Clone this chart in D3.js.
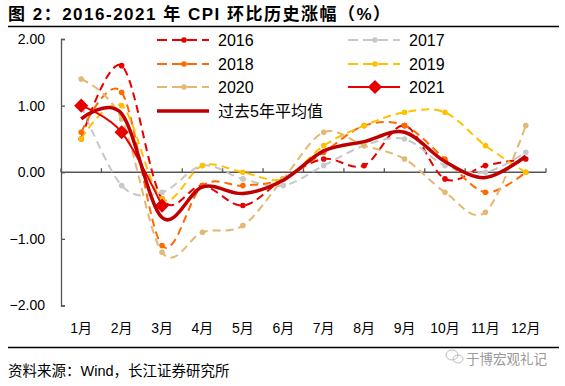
<!DOCTYPE html>
<html>
<head>
<meta charset="UTF-8">
<title>CPI 环比</title>
<script src="https://cdn.jsdelivr.net/npm/d3@7"></script>
<style>
  body { margin: 0; background: #fff; }
  text { font-family: "Liberation Sans", "Noto Sans CJK SC", sans-serif; }
</style>
</head>
<body>
<script>
// data
var months = ["1月", "2月", "3月", "4月", "5月", "6月", "7月", "8月", "9月", "10月", "11月", "12月"];
var yTicks = [2, 1, 0, -1, -2];
var v2016 = [0.5, 1.6, -0.4, -0.2, -0.5, -0.1, 0.2, 0.1, 0.7, -0.1, 0.1, 0.2];
var v2017 = [1.0, -0.2, -0.3, 0.1, -0.1, -0.2, 0.1, 0.4, 0.5, 0.1, 0.0, 0.3];
var v2018 = [0.6, 1.2, -1.1, -0.2, -0.2, -0.1, 0.3, 0.7, 0.7, 0.2, -0.3, 0.0];
var v2019 = [0.5, 1.0, -0.4, 0.1, 0.0, -0.1, 0.4, 0.7, 0.9, 0.9, 0.4, 0.0];
var v2020 = [1.4, 0.8, -1.2, -0.9, -0.8, -0.1, 0.6, 0.4, 0.2, -0.3, -0.6, 0.7];
var v2021 = [1.0, 0.6, -0.5];
var vAvg = [0.8, 0.88, -0.68, -0.22, -0.32, -0.12, 0.32, 0.46, 0.6, 0.16, -0.08, 0.24];

var series = [
  {name: "2016", values: v2016, color: "#e60000", dash: "8,5", marker: "dot", width: 2},
  {name: "2017", values: v2017, color: "#c8c8c8", dash: "8,5", marker: "dot", width: 2},
  {name: "2018", values: v2018, color: "#ff6a00", dash: "8,5", marker: "dot", width: 2},
  {name: "2019", values: v2019, color: "#ffc000", dash: "8,5", marker: "dot", width: 2},
  {name: "2020", values: v2020, color: "#e2b874", dash: "8,5", marker: "dot", width: 2},
  {name: "2021", values: v2021, color: "#e60000", dash: null, marker: "diamond", width: 2},
  {name: "过去5年平均值", values: vAvg, color: "#c00000", dash: null, marker: null, width: 3.5}
];

var W = 565, H = 386;
var svg = d3.select("body").append("svg").attr("width", W).attr("height", H);

// title + rules
svg.append("text").attr("x", 8).attr("y", 20)
  .attr("font-size", 17).attr("font-weight", "bold").attr("fill", "#000")
  .attr("textLength", 382).attr("lengthAdjust", "spacing")
  .text("图 2：2016-2021 年 CPI 环比历史涨幅（%）");
svg.append("line").attr("x1", 8).attr("x2", 559).attr("y1", 26.5).attr("y2", 26.5)
  .attr("stroke", "#000").attr("stroke-width", 1.3);
svg.append("line").attr("x1", 8).attr("x2", 559).attr("y1", 347.5).attr("y2", 347.5)
  .attr("stroke", "#000").attr("stroke-width", 1.3);

var x = d3.scaleBand().domain(months).range([61, 546]);
var y = d3.scaleLinear().domain([-2, 2]).range([305.5, 39]);

// y axis, ticks pointing inside
var yAxis = svg.append("g").attr("transform", "translate(61,0)")
  .call(d3.axisLeft(y).tickValues(yTicks).tickSize(-4).tickPadding(16).tickFormat(d3.format(".2f")));
yAxis.select(".domain").attr("stroke", "#555").attr("stroke-width", 1.3);
yAxis.selectAll(".tick line").attr("stroke", "#555").attr("stroke-width", 1.3);
yAxis.selectAll(".tick text").attr("font-size", 14).attr("fill", "#000")
  .attr("font-family", "\"Liberation Sans\", sans-serif");

// x axis at zero, ticks on the band edges pointing up
var xg = svg.append("g").attr("transform", "translate(0," + y(0) + ")");
xg.append("line").attr("x1", 61).attr("x2", 546).attr("stroke", "#555").attr("stroke-width", 1.3);
xg.selectAll("line.tk").data(months.concat(["end"])).enter().append("line")
  .attr("class", "tk")
  .attr("x1", function(d, i) { return 61 + i * x.bandwidth(); })
  .attr("x2", function(d, i) { return 61 + i * x.bandwidth(); })
  .attr("y1", 0).attr("y2", -4)
  .attr("stroke", "#555").attr("stroke-width", 1.3);

svg.append("g").selectAll("text").data(months).enter().append("text")
  .attr("x", function(d) { return x(d) + x.bandwidth() / 2; })
  .attr("y", 333)
  .attr("text-anchor", "middle").attr("font-size", 14).attr("fill", "#000")
  .text(function(d) { return d; });

// lines
var line = d3.line()
  .x(function(d, i) { return x(months[i]) + x.bandwidth() / 2; })
  .y(function(d) { return y(d); })
  .curve(d3.curveCatmullRom.alpha(0));

// square turned 45 degrees, like the Excel diamond
var diamond = d3.symbol().type(d3.symbolSquare).size(100);

series.forEach(function(s) {
  var g = svg.append("g");
  g.append("path").datum(s.values)
    .attr("d", line)
    .attr("fill", "none")
    .attr("stroke", s.color)
    .attr("stroke-width", s.width)
    .attr("stroke-dasharray", s.dash);
  if (s.marker == "dot") {
    g.selectAll("circle").data(s.values).enter().append("circle")
      .attr("cx", function(d, i) { return x(months[i]) + x.bandwidth() / 2; })
      .attr("cy", function(d) { return y(d); })
      .attr("r", 2.8).attr("fill", s.color);
  } else if (s.marker == "diamond") {
    g.selectAll("path.m").data(s.values).enter().append("path")
      .attr("class", "m")
      .attr("d", diamond)
      .attr("transform", function(d, i) { return "translate(" + (x(months[i]) + x.bandwidth() / 2) + "," + y(d) + ") rotate(45)"; })
      .attr("fill", s.color);
  }
});

// legend
var legPos = [[157, 40], [348, 40], [157, 64], [348, 64], [157, 87], [348, 87], [157, 111]];
series.forEach(function(s, i) {
  var p = legPos[i];
  var g = svg.append("g").attr("transform", "translate(" + p[0] + "," + p[1] + ")");
  g.append("line").attr("x1", 0).attr("x2", 52).attr("y1", 0).attr("y2", 0)
    .attr("stroke", s.color).attr("stroke-width", s.width)
    .attr("stroke-dasharray", s.dash ? "10,5" : null);
  if (s.marker == "dot") {
    g.append("circle").attr("cx", 27).attr("cy", 0).attr("r", 2.8).attr("fill", s.color);
  } else if (s.marker == "diamond") {
    g.append("path").attr("d", diamond).attr("transform", "translate(27,0) rotate(45)").attr("fill", s.color);
  }
  g.append("text").attr("x", 61).attr("y", 5.5)
    .attr("font-size", 16).attr("fill", "#000")
    .text(s.name);
});

// source + watermark
svg.append("text").attr("x", 8).attr("y", 376)
  .attr("font-size", 14.5).attr("fill", "#000")
  .text("资料来源：Wind，长江证券研究所");
var wm = svg.append("g").attr("transform", "translate(452,356)");
wm.append("ellipse").attr("cx", 0).attr("cy", -1).attr("rx", 6).attr("ry", 5)
  .attr("fill", "none").attr("stroke", "#bbb").attr("stroke-width", 1);
wm.append("ellipse").attr("cx", 6).attr("cy", 3).attr("rx", 5).attr("ry", 4)
  .attr("fill", "none").attr("stroke", "#bbb").attr("stroke-width", 1);
svg.append("text").attr("x", 466).attr("y", 364)
  .attr("font-size", 13.5).attr("fill", "#999")
  .text("于博宏观礼记");
</script>
</body>
</html>
